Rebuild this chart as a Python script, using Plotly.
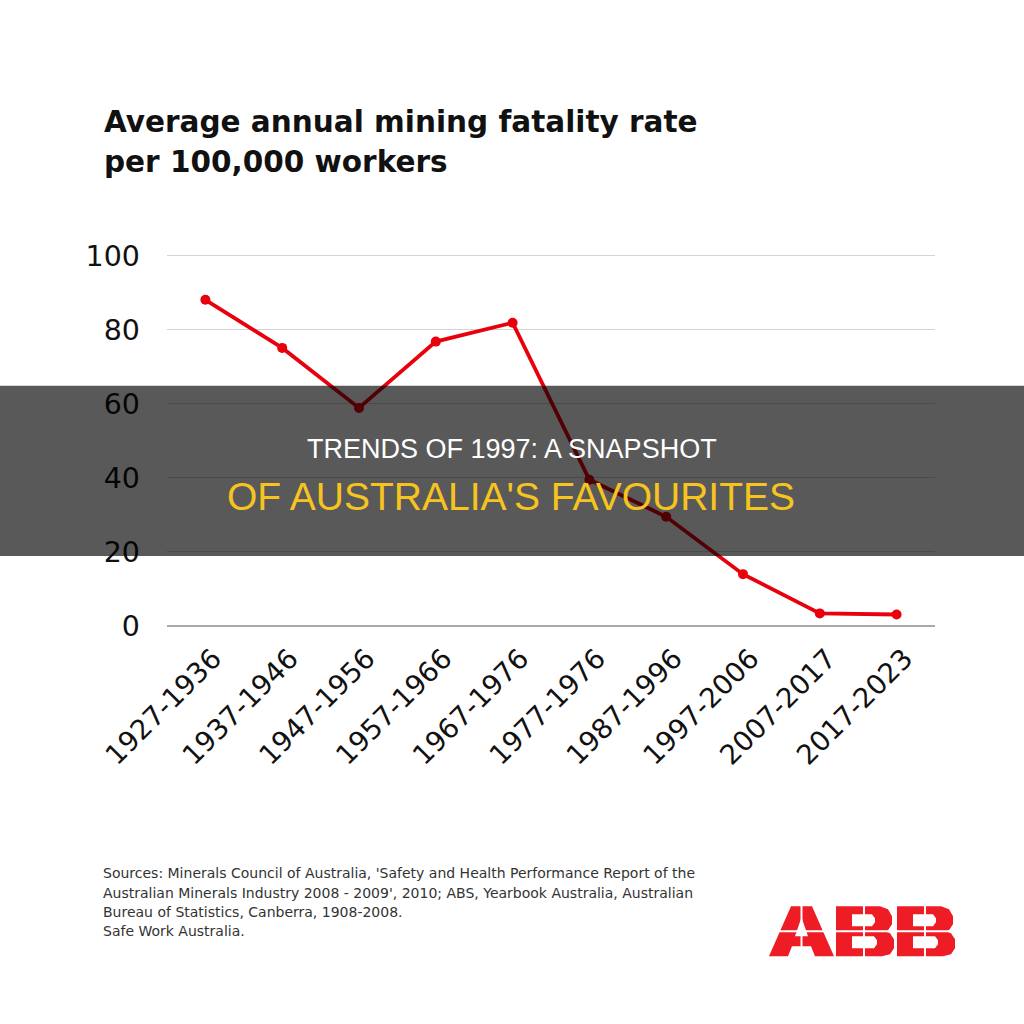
import plotly.graph_objects as go

periods = ["1927-1936", "1937-1946", "1947-1956", "1957-1966", "1967-1976",
           "1977-1976", "1987-1996", "1997-2006", "2007-2017", "2017-2023"]
fatality_rate = [88.1, 75.1, 58.9, 76.8, 81.9, 39.5, 29.5, 14.0, 3.4, 3.1]
y_ticks = [0, 20, 40, 60, 80, 100]

title_lines = ["Average annual mining fatality rate", "per 100,000 workers"]
banner_lines = ["TRENDS OF 1997: A SNAPSHOT", "OF AUSTRALIA'S FAVOURITES"]
source_lines = [
    "Sources: Minerals Council of Australia, 'Safety and Health Performance Report of the",
    "Australian Minerals Industry 2008 - 2009', 2010; ABS, Yearbook Australia, Australian",
    "Bureau of Statistics, Canberra, 1908-2008.",
    "Safe Work Australia.",
]

W, H = 1024, 1024
Y_MAX = 101
L, R, B = 167, 935, 626
T = B - 3.7 * Y_MAX


def px(x):
    return (x - L) / (R - L)


def py(y):
    return (B - y) / (B - T)


fig = go.Figure()
fig.add_trace(go.Scatter(
    x=periods, y=fatality_rate, mode="lines+markers",
    line=dict(color="#e8000d", width=3.8),
    marker=dict(color="#e8000d", size=10),
    hoverinfo="skip", showlegend=False,
))

fig.update_layout(
    width=W, height=H,
    margin=dict(l=L, r=W - R, t=T, b=H - B, autoexpand=False),
    paper_bgcolor="white", plot_bgcolor="white",
    xaxis=dict(
        range=[-0.5, len(periods) - 0.5], showgrid=False, zeroline=False,
        showline=False, tickangle=-45, ticks="",
        ticklabelstandoff=10, ticklabelshift=8,
        tickfont=dict(family="DejaVu Sans", size=27.5, color="#111"),
    ),
    yaxis=dict(
        range=[0, Y_MAX], tickvals=y_ticks, showgrid=True, gridcolor="#d4d4d4",
        gridwidth=1.2, zeroline=True, zerolinecolor="#a8a8a8", zerolinewidth=2,
        showline=False, ticks="", ticklabelstandoff=26,
        tickfont=dict(family="DejaVu Sans", size=28.5, color="#111"),
    ),
)

# Title
for i, t in enumerate(title_lines):
    fig.add_annotation(
        text=t, xref="paper", yref="paper", x=px(102), y=py(122 + 40 * i),
        xanchor="left", yanchor="middle", showarrow=False,
        font=dict(family="DejaVu Sans", size=29.5, color="#111", weight="bold"),
    )

# Sources
for i, t in enumerate(source_lines):
    fig.add_annotation(
        text=t, xref="paper", yref="paper", x=px(101), y=py(873 + 19.3 * i),
        xanchor="left", yanchor="middle", showarrow=False,
        font=dict(family="DejaVu Sans", size=14, color="#333"),
    )

shapes = []
# Banner overlay
shapes.append(dict(type="rect", xref="paper", yref="paper",
                   x0=px(0), x1=px(W), y0=py(556), y1=py(386),
                   fillcolor="rgba(0,0,0,0.65)", line=dict(width=0), layer="above"))


def path(points_list):
    s = ""
    for pts in points_list:
        s += "M" + " L".join(f"{px(x):.5f},{py(y):.5f}" for x, y in pts) + " Z "
    return s


red = "#ee1c25"
# ABB logo: A
shapes.append(dict(type="path", xref="paper", yref="paper", layer="above",
                   path=path([
                       [(769, 956), (791, 906), (812, 906), (834, 956),
                        (815, 956), (811, 946), (792, 946), (788, 956)],
                       [(795, 936), (808, 936), (801.5, 917)],
                   ]),
                   fillcolor=red, line=dict(width=0)))


def b_letter(x0):
    outer = [(x0, 906), (x0 + 44, 906), (x0 + 52, 909), (x0 + 56, 916),
             (x0 + 56, 924), (x0 + 52, 930), (x0 + 49, 931), (x0 + 54, 933),
             (x0 + 58, 939), (x0 + 58, 948), (x0 + 54, 954), (x0 + 46, 956), (x0, 956)]
    hole1 = [(x0 + 16, 914), (x0 + 16, 926), (x0 + 36, 926), (x0 + 39, 922),
             (x0 + 39, 918), (x0 + 36, 914)]
    hole2 = [(x0 + 16, 936), (x0 + 16, 948), (x0 + 38, 948), (x0 + 41, 944),
             (x0 + 41, 940), (x0 + 38, 936)]
    return path([outer, hole1[::-1], hole2[::-1]])


for x0 in (836, 897):
    shapes.append(dict(type="path", xref="paper", yref="paper", layer="above",
                       path=b_letter(x0), fillcolor=red, line=dict(width=0)))

# white grid lines of the logo
shapes.append(dict(type="line", xref="paper", yref="paper", layer="above",
                   x0=px(766), x1=px(958), y0=py(931), y1=py(931),
                   line=dict(color="white", width=2)))
for xv in (801.5, 864, 925):
    shapes.append(dict(type="line", xref="paper", yref="paper", layer="above",
                       x0=px(xv), x1=px(xv), y0=py(904), y1=py(958),
                       line=dict(color="white", width=2)))

fig.update_layout(shapes=shapes)

# Banner text
fig.add_annotation(text=banner_lines[0], xref="paper", yref="paper",
                   x=px(512), y=py(449), xanchor="center", yanchor="middle",
                   showarrow=False,
                   font=dict(family="Liberation Sans", size=27, color="white"))
fig.add_annotation(text=banner_lines[1], xref="paper", yref="paper",
                   x=px(511), y=py(497), xanchor="center", yanchor="middle",
                   showarrow=False,
                   font=dict(family="Liberation Sans", size=39, color="#f7c41f"))

fig.write_html("out.html")
